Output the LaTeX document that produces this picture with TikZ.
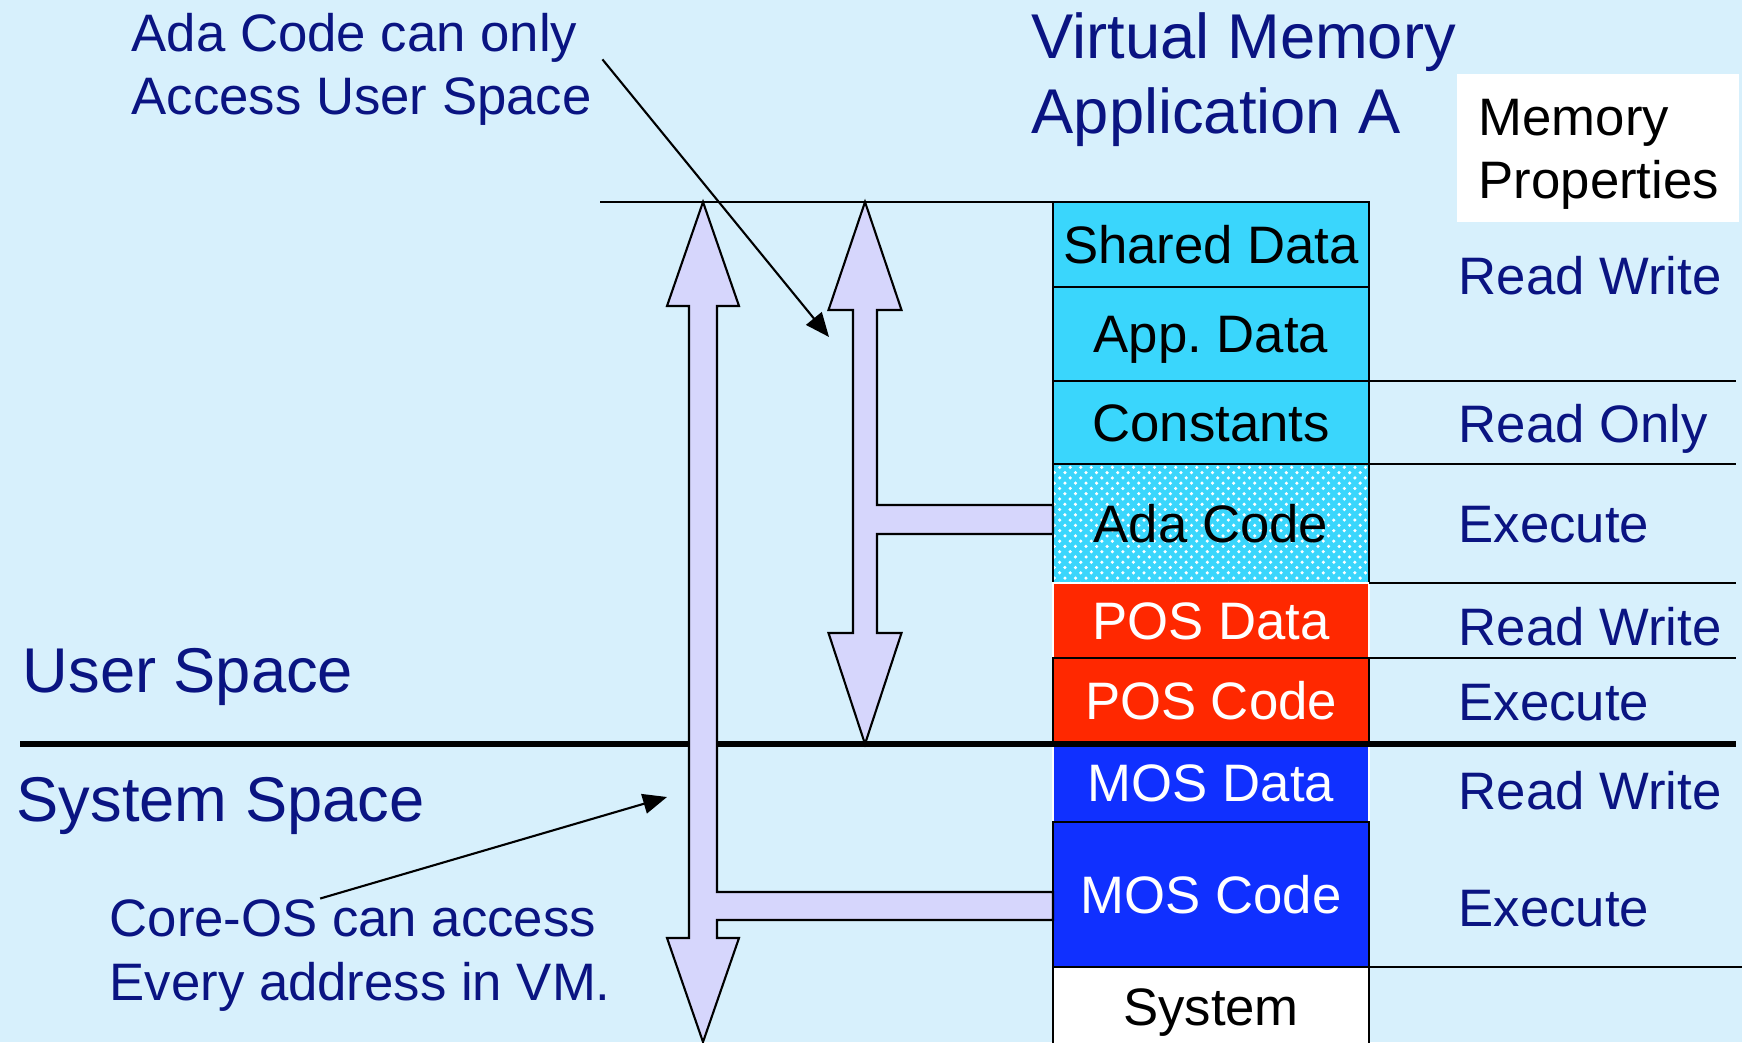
\documentclass[tikz,border=0pt]{standalone}
\usepackage{fontspec}
\setmainfont{Liberation Sans}
\usepackage{xcolor}
\usetikzlibrary{positioning,patterns,arrows.meta}

\definecolor{bgblue}{RGB}{215,240,252}
\definecolor{cellcyan}{RGB}{58,214,252}
\definecolor{posred}{RGB}{255,40,0}
\definecolor{mosblue}{RGB}{16,48,255}
\definecolor{arrowfill}{RGB}{214,214,252}
\definecolor{navy}{RGB}{10,20,130}

\begin{document}
\begin{tikzpicture}[>={Triangle[length=2.4mm,width=2mm]},node distance=0pt]
  \tikzstyle{cell}=[draw=black,line width=.6pt,fill=cellcyan,minimum width=3.16cm,inner sep=0pt,outer sep=0pt,text height=12pt,text depth=1.3pt,font=\fontsize{15}{18}\selectfont]
  \tikzstyle{prop}=[anchor=base west,inner sep=0pt,text=navy,font=\fontsize{15}{18}\selectfont]
  \tikzstyle{note}=[anchor=base west,inner sep=0pt,align=left,text=navy,font=\fontsize{15}{18.2}\selectfont]
  \tikzstyle{bignote}=[anchor=base west,inner sep=0pt,align=left,text=navy,font=\fontsize{18}{21.5}\selectfont]
  \tikzstyle{bigarrow}=[draw=black,line width=.6pt,fill=arrowfill,line join=miter]
  \tikzstyle{sep}=[line width=.6pt]

  \clip (0,0) rectangle (17.42,10.42);
  \fill[bgblue] (0,0) rectangle (17.42,10.42);

  % memory map of application A
  \node[cell,minimum height=.85cm,anchor=north west] (shared) at (10.53,8.40) {Shared Data};
  \node[cell,minimum height=.94cm,below=of shared]   (app)       {App.\ Data};
  \node[cell,minimum height=.83cm,below=of app]      (constants) {Constants};
  \node[cell,minimum height=1.19cm,below=of constants,preaction={fill=cellcyan},pattern=crosshatch dots,pattern color=white] (ada) {Ada Code};
  \node[cell,minimum height=.75cm,below=of ada,fill=posred,draw=white,text=white]       (posdata) {POS Data};
  \node[cell,minimum height=.86cm,below=of posdata,fill=posred,text=white]              (poscode) {POS Code};
  \node[cell,minimum height=.78cm,below=of poscode,fill=mosblue,draw=white,text=white]  (mosdata) {MOS Data};
  \node[cell,minimum height=1.45cm,below=of mosdata,fill=mosblue,text=white]            (moscode) {MOS Code};
  \node[cell,minimum height=.80cm,below=of moscode,fill=white]                          (system)  {System};

  \draw[sep] (6.00,8.40) -- (shared.north west);
  \draw[line width=1.5pt] (0.20,2.98) -- (17.36,2.98);
  \draw[sep] (constants.north east) -- ++(3.67,0);
  \draw[sep] (ada.north east) -- ++(3.67,0);
  \draw[sep] (posdata.north east) -- ++(3.67,0);
  \draw[sep] (poscode.north east) -- ++(3.67,0);
  \draw[sep] (system.north east) -- ++(3.80,0);

  % access arrows
  \draw[bigarrow] (7.03,8.40) -- (7.39,7.36) -- (7.17,7.36) -- (7.17,1.50) -- (10.53,1.50)
    -- (10.53,1.22) -- (7.17,1.22) -- (7.17,1.04) -- (7.39,1.04) -- (7.03,0) -- (6.67,1.04)
    -- (6.89,1.04) -- (6.89,7.36) -- (6.67,7.36) -- cycle;
  \draw[bigarrow] (8.65,8.40) -- (9.015,7.32) -- (8.77,7.32) -- (8.77,5.37) -- (10.53,5.37)
    -- (10.53,5.08) -- (8.77,5.08) -- (8.77,4.09) -- (9.015,4.09) -- (8.65,2.98) -- (8.285,4.09)
    -- (8.53,4.09) -- (8.53,7.32) -- (8.285,7.32) -- cycle;

  % labels
  \node[bignote] (title) at (10.31,9.08) {Virtual Memory\\Application A};
  \node[fill=white,anchor=north west,minimum height=1.48cm,text width=2.38cm,inner xsep=.22cm,inner ysep=0pt,text height=.5cm,text depth=.74cm,align=left,font=\fontsize{15}{17.9}\selectfont] (memprop) at (14.56,9.69) {Memory\\Properties};
  \node[bignote] (userspace) at (0.22,3.50) {User Space};
  \node[bignote] (systemspace) at (0.16,2.21) {System Space};

  \node[prop] (prop1) at (14.58,7.47) {Read Write};
  \node[prop] (prop2) at (14.58,5.99) {Read Only};
  \node[prop] (prop3) at (14.58,4.99) {Execute};
  \node[prop] (prop4) at (14.58,3.97) {Read Write};
  \node[prop] (prop5) at (14.58,3.22) {Execute};
  \node[prop] (prop6) at (14.58,2.33) {Read Write};
  \node[prop] (prop7) at (14.58,1.16) {Execute};

  \node[note] (adanote) at (1.31,9.27) {Ada Code can only\\Access User Space};
  \node[note] (corenote) at (1.09,0.42) {Core-OS can access\\Every address in VM.};

  \coordinate (adatip) at (8.29,7.05);
  \coordinate (coretip) at (6.67,2.45);
  \draw[->,sep] ([xshift=1mm,yshift=1mm]adanote.east) -- (adatip);
  \draw[->,sep] ([xshift=-4mm]corenote.north) -- (coretip);
\end{tikzpicture}
\end{document}
